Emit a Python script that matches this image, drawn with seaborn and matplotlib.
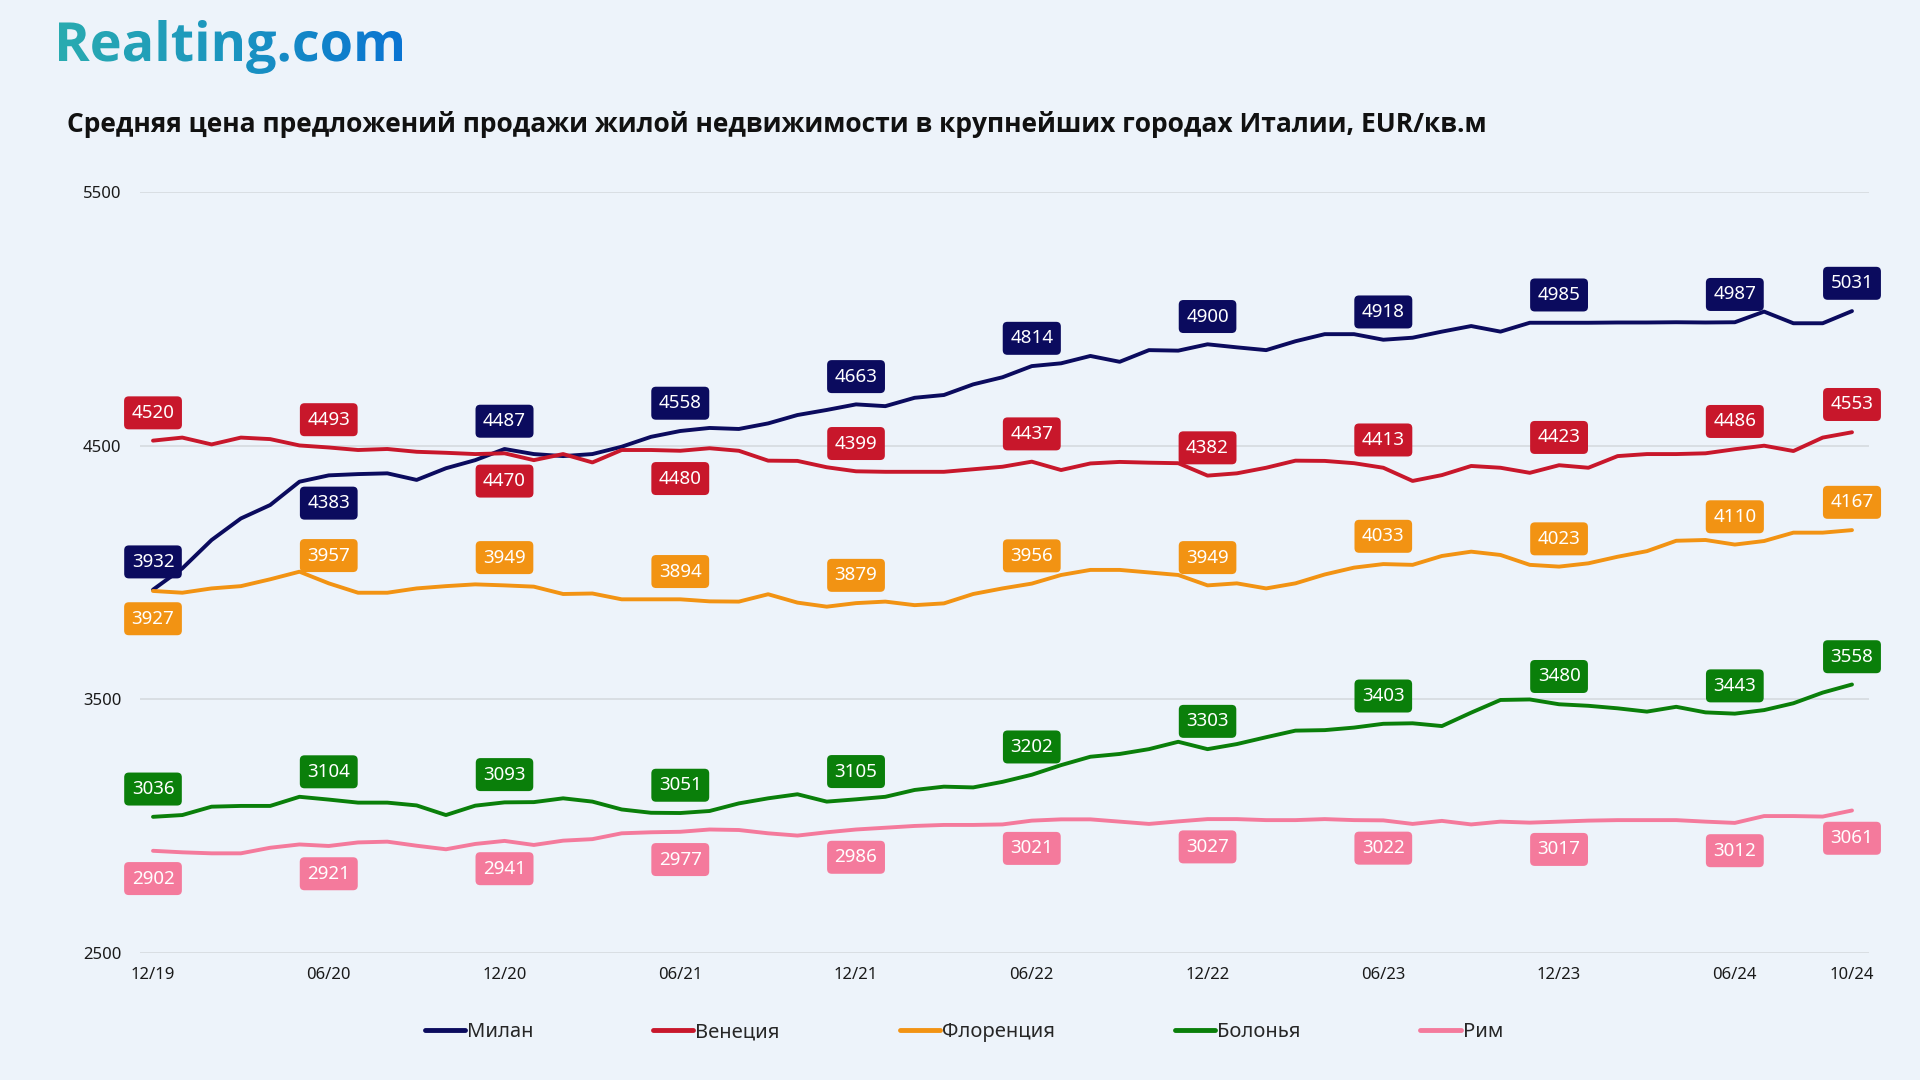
import matplotlib
matplotlib.use("Agg")
import matplotlib.pyplot as plt
import seaborn as sns
import numpy as np
import pandas as pd
from matplotlib.textpath import TextPath
from matplotlib.patches import PathPatch
from matplotlib.font_manager import FontProperties
from matplotlib.transforms import Affine2D
from matplotlib.colors import LinearSegmentedColormap
from matplotlib.lines import Line2D

# ---------------- data ----------------
months = ["12/19",
          "01/20", "02/20", "03/20", "04/20", "05/20", "06/20", "07/20", "08/20", "09/20", "10/20", "11/20", "12/20",
          "01/21", "02/21", "03/21", "04/21", "05/21", "06/21", "07/21", "08/21", "09/21", "10/21", "11/21", "12/21",
          "01/22", "02/22", "03/22", "04/22", "05/22", "06/22", "07/22", "08/22", "09/22", "10/22", "11/22", "12/22",
          "01/23", "02/23", "03/23", "04/23", "05/23", "06/23", "07/23", "08/23", "09/23", "10/23", "11/23", "12/23",
          "01/24", "02/24", "03/24", "04/24", "05/24", "06/24", "07/24", "08/24", "09/24", "10/24"]

tick_labels = ["12/19", "06/20", "12/20", "06/21", "12/21", "06/22",
               "12/22", "06/23", "12/23", "06/24", "10/24"]

milan = [3932, 4016, 4128, 4213, 4266, 4358, 4383, 4388, 4391, 4365, 4411, 4443,
         4487, 4467, 4459, 4467, 4496, 4535, 4558, 4570, 4566, 4588, 4621, 4641,
         4663, 4656, 4689, 4700, 4742, 4770, 4814, 4825, 4854, 4831, 4877, 4875,
         4900, 4888, 4877, 4912, 4940, 4940, 4918, 4926, 4950, 4972, 4950, 4985,
         4985, 4985, 4986, 4986, 4987, 4986, 4987, 5029, 4983, 4983, 5031]

venice = [4520, 4532, 4505, 4532, 4526, 4501, 4493, 4483, 4487, 4476, 4472, 4467,
          4470, 4443, 4467, 4434, 4483, 4483, 4480, 4490, 4480, 4441, 4440, 4415,
          4399, 4397, 4397, 4397, 4407, 4417, 4437, 4404, 4430, 4436, 4433, 4431,
          4382, 4391, 4413, 4441, 4440, 4431, 4413, 4361, 4384, 4420, 4413, 4393,
          4423, 4413, 4459, 4467, 4467, 4470, 4486, 4500, 4479, 4532, 4553]

florence = [3927, 3920, 3937, 3946, 3973, 4003, 3957, 3920, 3920, 3937, 3946, 3953,
            3949, 3944, 3915, 3917, 3894, 3894, 3894, 3886, 3885, 3914, 3881, 3865,
            3879, 3885, 3871, 3878, 3915, 3937, 3956, 3990, 4010, 4010, 4000, 3990,
            3949, 3957, 3937, 3957, 3992, 4019, 4033, 4030, 4065, 4082, 4069, 4030,
            4023, 4036, 4062, 4084, 4125, 4128, 4110, 4124, 4157, 4157, 4167]

bologna = [3036, 3043, 3076, 3079, 3079, 3115, 3104, 3092, 3092, 3081, 3043, 3080,
           3093, 3094, 3109, 3096, 3065, 3052, 3051, 3059, 3089, 3109, 3125, 3096,
           3105, 3115, 3142, 3155, 3152, 3174, 3202, 3240, 3273, 3284, 3303, 3332,
           3303, 3323, 3350, 3376, 3378, 3388, 3403, 3405, 3394, 3447, 3497, 3499,
           3480, 3474, 3464, 3451, 3470, 3448, 3443, 3457, 3484, 3526, 3558]

rome = [2902, 2896, 2892, 2892, 2914, 2927, 2921, 2935, 2938, 2922, 2908, 2929,
        2941, 2925, 2942, 2948, 2971, 2975, 2977, 2986, 2984, 2971, 2962, 2975,
        2986, 2993, 3000, 3004, 3004, 3006, 3021, 3026, 3026, 3017, 3008, 3018,
        3027, 3027, 3023, 3023, 3027, 3023, 3022, 3008, 3020, 3006, 3017, 3013,
        3017, 3021, 3023, 3023, 3023, 3017, 3012, 3039, 3039, 3037, 3061]

cities = ["Милан", "Венеция", "Флоренция", "Болонья", "Рим"]
series = [milan, venice, florence, bologna, rome]
colors = ["#0b0b5e", "#c8172b", "#f29313", "#0a7f0a", "#f47a9c"]

# label side (+1 above, -1 below) at each labelled month
label_sides = {
    "Милан":     [1, -1, 1, 1, 1, 1, 1, 1, 1, 1, 1],
    "Венеция":   [1, 1, -1, -1, 1, 1, 1, 1, 1, 1, 1],
    "Флоренция": [-1, 1, 1, 1, 1, 1, 1, 1, 1, 1, 1],
    "Болонья":   [1, 1, 1, 1, 1, 1, 1, 1, 1, 1, 1],
    "Рим":       [-1, -1, -1, -1, -1, -1, -1, -1, -1, -1, -1],
}

# ---------------- figure ----------------
BG = "#edf3fa"
sns.set_theme(style="white")
plt.rcParams["font.family"] = ["Noto Sans", "DejaVu Sans"]

fig = plt.figure(figsize=(19.2, 10.8), dpi=100, facecolor=BG)
W, H = 1920, 1080
ax_l, ax_r, ax_t, ax_b = 139.5, 1869, 192.2, 952.7
ax = fig.add_axes([ax_l / W, 1 - ax_b / H, (ax_r - ax_l) / W, (ax_b - ax_t) / H])
ax.set_facecolor(BG)

x_idx = np.arange(len(months))
frames = []
for city, vals in zip(cities, series):
    frames.append(pd.DataFrame({"idx": x_idx, "month": months, "city": city, "price": vals}))
df = pd.concat(frames, ignore_index=True)
palette = dict(zip(cities, colors))

sns.lineplot(data=df, x="idx", y="price", hue="city", palette=palette,
             linewidth=2.8, ax=ax, legend=False, zorder=3)

ax.set_ylim(2500, 5500)
x0 = -(153 - ax_l) / 29.28
x1 = 58 + (ax_r - 1852) / 29.28
ax.set_xlim(x0, x1)
ax.set_yticks([2500, 3500, 4500, 5500])
ax.set_yticklabels(["2500", "3500", "4500", "5500"])
tick_pos = [months.index(t) for t in tick_labels]
ax.set_xticks(tick_pos)
ax.set_xticklabels(tick_labels)
ax.tick_params(axis="both", length=0, labelsize=12, colors="#1a1a1a")
ax.tick_params(axis="y", pad=13)
ax.tick_params(axis="x", pad=10)
ax.grid(axis="y", color="#d6dadf", linewidth=1.2, zorder=0)
ax.grid(axis="x", visible=False)
for s in ax.spines.values():
    s.set_visible(False)
ax.set_xlabel("")
ax.set_ylabel("")

# data labels
for city, vals, col in zip(cities, series, colors):
    sides = label_sides[city]
    for p, sd in zip(tick_pos, sides):
        ax.annotate(str(vals[p]), xy=(p, vals[p]), xytext=(0, 20 * sd),
                    textcoords="offset points", ha="center", va="center",
                    fontsize=13.5, color="white", family=["Noto Sans", "DejaVu Sans"],
                    bbox=dict(boxstyle="round,pad=0.4,rounding_size=0.25",
                              fc=col, ec="none"),
                    zorder=5, annotation_clip=False)

# legend
handles = [Line2D([0], [0], color=c, lw=3.5) for c in colors]
fig.legend(handles, cities, loc="center", bbox_to_anchor=(0.502, 1 - 1032 / H),
           ncol=5, frameon=False, fontsize=14.5, handlelength=2.0,
           handletextpad=0.1, columnspacing=5.95)

# title
fig.text(67 / W, 1 - 125 / H,
         "Средняя цена предложений продажи жилой недвижимости в крупнейших городах Италии, EUR/кв.м",
         fontsize=19, fontweight="bold", color="#111111", va="center", ha="left",
         family=["Open Sans", "DejaVu Sans"])

# logo with gradient
lax = fig.add_axes([0, 0, 1, 1], zorder=10)
lax.set_xlim(0, W)
lax.set_ylim(0, H)
lax.axis("off")
fp = FontProperties(family=["Open Sans", "DejaVu Sans"], weight="bold")
tp = TextPath((0, 0), "Realting.com", size=100, prop=fp)
bb = tp.get_extents()
sc = (402 - 59) / bb.width
tr = Affine2D().translate(-bb.x0, 0).scale(sc).translate(59, H - 61)
path = tr.transform_path(tp)
patch = PathPatch(path, fc="none", ec="none", transform=lax.transData)
lax.add_patch(patch)
grad = np.linspace(0, 1, 256).reshape(1, -1)
cmap = LinearSegmentedColormap.from_list("g", ["#29abb0", "#1b95c0", "#0a74d2"])
im = lax.imshow(grad, extent=[59, 402, H - 80, H - 5], cmap=cmap, aspect="auto",
                origin="lower", zorder=10)
im.set_clip_path(patch)
lax.set_xlim(0, W)
lax.set_ylim(0, H)

fig.savefig("out.png", dpi=100, facecolor=BG)
